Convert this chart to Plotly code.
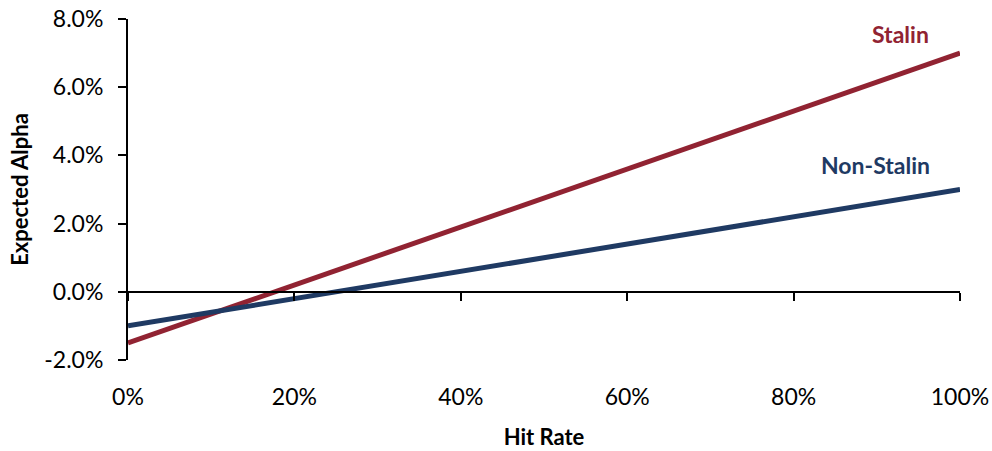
import plotly.graph_objects as go

# Expected alpha as a function of hit rate
hit_rate = [0.0, 1.0]
stalin = [-0.015, 0.070]
non_stalin = [-0.010, 0.030]

series_names = ["Stalin", "Non-Stalin"]
series_colors = ["#912332", "#1F3A63"]

x_ticks = [0, 0.2, 0.4, 0.6, 0.8, 1.0]
x_labels = ["0%", "20%", "40%", "60%", "80%", "100%"]
y_ticks = [-0.02, 0, 0.02, 0.04, 0.06, 0.08]
y_labels = ["-2.0%", "0.0%", "2.0%", "4.0%", "6.0%", "8.0%"]

FONT = "Lato, 'Open Sans', sans-serif"

fig = go.Figure()
for name, vals, col in zip(series_names, [stalin, non_stalin], series_colors):
    fig.add_trace(go.Scatter(x=hit_rate, y=vals, mode="lines", name=name,
                             line=dict(color=col, width=5), showlegend=False))

# direct series labels
fig.add_annotation(x=0.928, y=0.0756, text="<b>Stalin</b>", showarrow=False,
                   font=dict(family=FONT, size=23, color=series_colors[0]))
fig.add_annotation(x=0.898, y=0.0372, text="<b>Non-Stalin</b>", showarrow=False,
                   font=dict(family=FONT, size=23, color=series_colors[1]))

fig.update_layout(
    width=992, height=451,
    margin=dict(l=128, r=32, t=19, b=91, autoexpand=False),
    plot_bgcolor="white", paper_bgcolor="white",
    font=dict(family=FONT, size=23, color="black"),
    xaxis=dict(range=[0, 1], tickvals=x_ticks, ticktext=x_labels,
               showgrid=False, zeroline=False, showline=False, ticks="",
               ticklabelstandoff=21, automargin=False,
               title=dict(text="<b>Hit Rate</b>", font=dict(size=22), standoff=20)),
    # axis line crossing at y = 0 with downward ticks
    xaxis2=dict(range=[0, 1], overlaying="x", anchor="free", position=0.2,
                tickvals=x_ticks, showticklabels=False,
                showline=True, linecolor="black", linewidth=2,
                ticks="outside", ticklen=8, tickwidth=1.5, tickcolor="black",
                showgrid=False, zeroline=False, side="bottom"),
    yaxis=dict(range=[-0.02, 0.08], tickvals=y_ticks, ticktext=y_labels,
               showgrid=False, zeroline=False, automargin=False,
               showline=True, linecolor="black", linewidth=2,
               ticks="outside", ticklen=8, tickwidth=2, tickcolor="black",
               ticklabelstandoff=10,
               title=dict(text="<b>Expected Alpha</b>", font=dict(size=22), standoff=10)),
)

# invisible trace so the crossing axis is rendered
fig.add_trace(go.Scatter(x=[0], y=[0], xaxis="x2", mode="markers",
                         marker=dict(opacity=0), showlegend=False, hoverinfo="skip"))

fig.write_html("out.html")
